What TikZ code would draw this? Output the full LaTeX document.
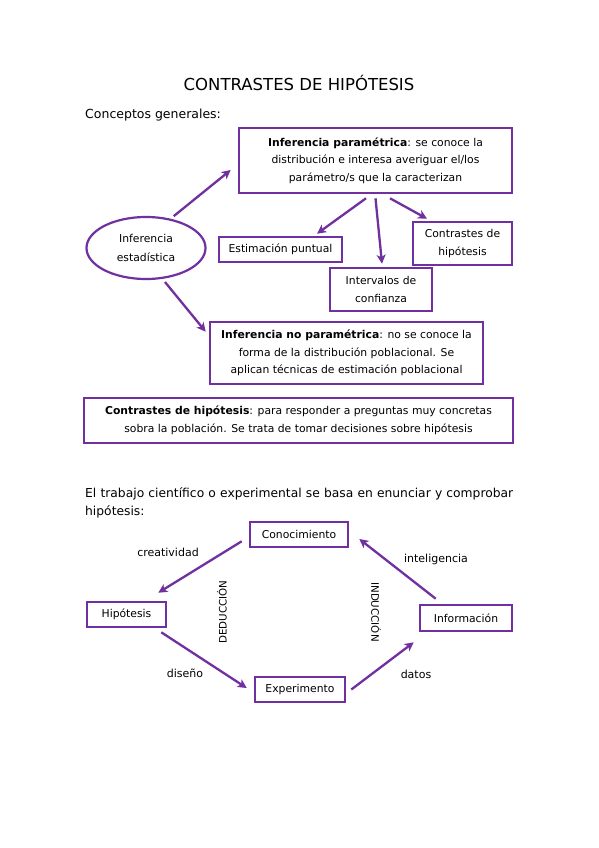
\documentclass[tikz,border=0pt]{standalone}
\usepackage{fontspec}
\setmainfont{DejaVu Sans}
\usetikzlibrary{arrows.meta,shapes.geometric}
\definecolor{morado}{HTML}{7030A0}

\begin{document}
\begin{tikzpicture}[
		x=1pt,y=-1pt,
		caja/.style={draw=morado,line width=2.6pt,align=center,inner sep=2pt,
			font=\fontsize{10.8}{17.5}\selectfont},
		elipse/.style={ellipse,draw=morado,line width=2.2pt,align=center,
			font=\fontsize{10.8}{19}\selectfont},
		flecha/.style={morado,line width=2.3pt,-{Stealth[length=9pt,width=9pt,inset=2.5pt]}},
		etiqueta/.style={font=\fontsize{11}{13}\selectfont}
		]
		\useasboundingbox[fill=white] (0,0) rectangle (599,848);
		% cabecera
		\node (titulo) at (299,83) {\fontsize{16.5}{19}\selectfont CONTRASTES DE HIPÓTESIS};
		\node[anchor=west,inner sep=0pt] (conceptos) at (85,115) {\fontsize{12.5}{15}\selectfont Conceptos generales:};
		% mapa de conceptos
		\node[caja,minimum width=273,minimum height=65] (par) at (375.5,160.5)
			{\textbf{Inferencia paramétrica}: se conoce la\\distribución e interesa averiguar el/los\\parámetro/s que la caracterizan};
		\node[elipse,minimum width=119,minimum height=62] (est) at (146,248) {Inferencia\\estadística};
		\node[caja,minimum width=123,minimum height=25] (pun) at (280.5,249.5) {Estimación puntual};
		\node[caja,minimum width=102,minimum height=43] (int) at (381,289.5) {Intervalos de\\confianza};
		\node[caja,minimum width=99,minimum height=43] (con) at (462.5,243.5) {Contrastes de\\hipótesis};
		\node[caja,minimum width=273,minimum height=62] (nopar) at (346.5,353)
			{\textbf{Inferencia no paramétrica}: no se conoce la\\forma de la distribución poblacional. Se\\aplican técnicas de estimación poblacional};
		\node[caja,minimum width=429,minimum height=45] (cont) at (298.5,420.5)
			{\textbf{Contrastes de hipótesis}: para responder a preguntas muy concretas\\sobra la población. Se trata de tomar decisiones sobre hipótesis};
		\draw[flecha,shorten <=4pt] (est.50) -- ([xshift=-7pt,yshift=-9.5pt]par.west);
		\draw[flecha,shorten <=4pt] (est.-62) -- ([xshift=-3pt,yshift=-11pt]nopar.north west);
		\draw[flecha] ([xshift=-9.5pt,yshift=-4pt]par.south) -- ([xshift=36.5pt,yshift=2pt]pun.north);
		\draw[flecha] ([yshift=-4pt]par.south) -- ([xshift=1pt,yshift=3pt]int.north);
		\draw[flecha] ([xshift=14.5pt,yshift=-4pt]par.south) -- ([xshift=-35.5pt,yshift=2pt]con.north);
		% ciclo del trabajo cientifico
		\node[anchor=north west,text width=428,align=justify,inner sep=0pt,
			font=\fontsize{12.3}{18}\selectfont] (parrafo) at (85,487)
			{El trabajo científico o experimental se basa en enunciar y comprobar hipótesis:};
		\node[caja,minimum width=98,minimum height=25] (cono) at (299,534.5) {Conocimiento};
		\node[caja,minimum width=79,minimum height=25] (hip) at (126.5,614.5) {Hipótesis};
		\node[caja,minimum width=92,minimum height=26] (info) at (466,618) {Información};
		\node[caja,minimum width=90,minimum height=25] (exp) at (300,689.5) {Experimento};
		\draw[flecha] ([xshift=-7pt,yshift=7pt]cono.south west) -- ([xshift=-9pt,yshift=8pt]hip.north east);
		\draw[flecha] ([xshift=-6pt,yshift=-4pt]hip.south east) -- ([xshift=-7pt,yshift=1.5pt]exp.west);
		\draw[flecha] ([xshift=5pt]exp.east) -- ([xshift=-5pt,yshift=-10pt]info.south west);
		\draw[flecha] ([xshift=17pt,yshift=5pt]info.north west) -- ([xshift=10pt,yshift=-4.5pt]cono.east);
		\node[etiqueta] (creat) at (168,552) {creatividad};
		\node[etiqueta] (dise) at (185,673) {diseño};
		\node[etiqueta] (datos) at (416,674) {datos};
		\node[etiqueta] (intel) at (436,559) {inteligencia};
		\node[etiqueta,font=\fontsize{10.3}{12}\selectfont,rotate=90] (ded) at (222,612) {DEDUCCIÓN};
		\node[etiqueta,font=\fontsize{10.3}{12}\selectfont,rotate=-90] (ind) at (376,612) {INDUCCIÓN};
\end{tikzpicture}
\end{document}
